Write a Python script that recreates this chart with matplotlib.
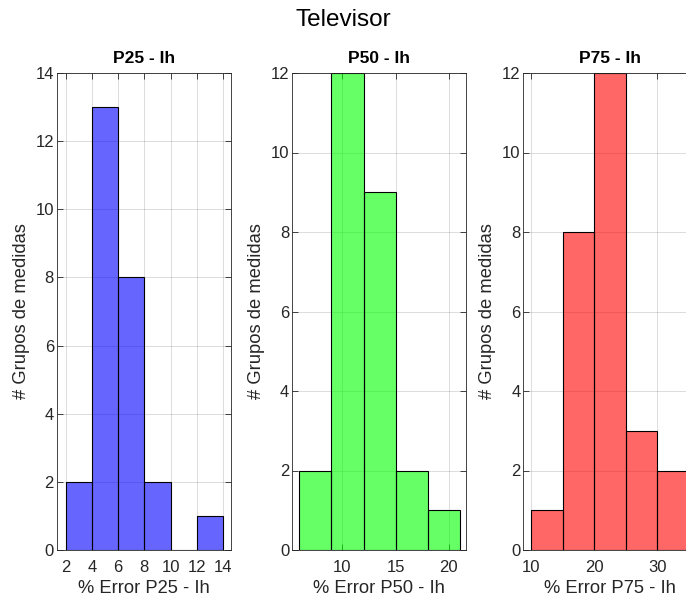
import matplotlib
matplotlib.use("Agg")
import matplotlib.pyplot as plt
import numpy as np

plt.rcParams['font.family'] = ['Liberation Sans', 'DejaVu Sans']

# Data
edges_p25 = [2, 4, 6, 8, 10, 12, 14]
counts_p25 = [2, 13, 8, 2, 0, 1]
edges_p50 = [6, 9, 12, 15, 18, 21]
counts_p50 = [2, 12, 9, 2, 1]
edges_p75 = [10, 15, 20, 25, 30, 35]
counts_p75 = [1, 8, 12, 3, 2]

titles = ["P25 - Ih", "P50 - Ih", "P75 - Ih"]
xlabels = ["% Error P25 - Ih", "% Error P50 - Ih", "% Error P75 - Ih"]
ylabel = "# Grupos de medidas"
suptitle = "Televisor"

W, H = 686, 601
fig = plt.figure(figsize=(W / 100, H / 100), dpi=100)

panels = [
    (edges_p25, counts_p25, (0, 0, 1), 56.7, (1.31, 14.59), (0, 14), [2, 4, 6, 8, 10, 12, 14], np.arange(0, 15, 2)),
    (edges_p50, counts_p50, (0, 1, 0), 292.0, (5.3, 21.6), (0, 12), [10, 15, 20], np.arange(0, 13, 2)),
    (edges_p75, counts_p75, (1, 0, 0), 523.3, (8.73, 36.35), (0, 12), [10, 20, 30], np.arange(0, 13, 2)),
]

axcol = (0.15, 0.15, 0.15)
for i, (edges, counts, col, left, xl, yl, xt, yt) in enumerate(panels):
    ax = fig.add_axes([left / W, 1 - 550 / H, 174 / W, (550 - 73) / H])
    ax.hist(edges[:-1], bins=edges, weights=counts, color=col, alpha=0.6,
            edgecolor='none')
    ax.hist(edges[:-1], bins=edges, weights=counts, facecolor='none',
            edgecolor='black', linewidth=0.8)
    ax.set_xlim(*xl)
    ax.set_ylim(*yl)
    ax.set_xticks(xt)
    ax.set_yticks(yt)
    ax.grid(True, color=(0.15, 0.15, 0.15), alpha=0.18, linewidth=0.6)
    ax.set_axisbelow(True)
    ax.tick_params(direction='in', top=True, right=True, length=4, width=0.6,
                   colors=axcol, labelsize=12, labelcolor=axcol)
    ax.tick_params(axis='x', pad=7)
    ax.tick_params(axis='y', pad=2)
    for s in ax.spines.values():
        s.set_color(axcol)
        s.set_linewidth(0.6)
    ax.set_title(titles[i], fontsize=12.5, fontweight='bold', pad=7)
    ax.set_xlabel(xlabels[i], fontsize=13.2, color=axcol, labelpad=4)
    ax.set_ylabel(ylabel, fontsize=13.2, color=axcol, labelpad=4)

fig.text(343 / W, 1 - 20 / H, suptitle, ha='center', va='center', fontsize=17.5)

fig.savefig("out.png", dpi=100)
